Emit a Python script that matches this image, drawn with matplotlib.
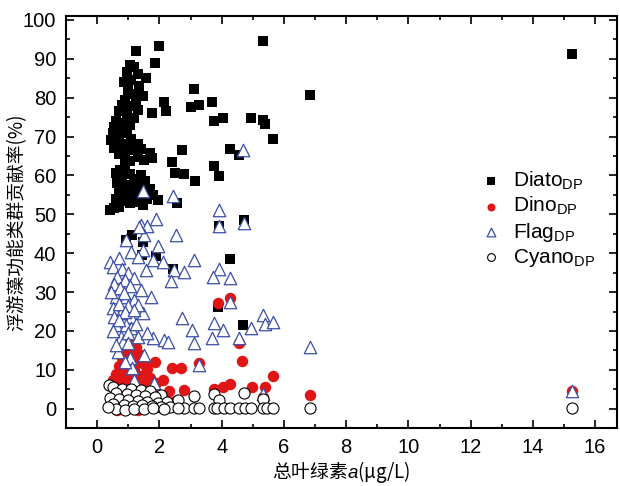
import matplotlib
matplotlib.use('Agg')
import matplotlib.pyplot as plt
from matplotlib.ticker import MultipleLocator

plt.rcParams['font.family'] = ['Liberation Sans', 'Noto Sans CJK SC']
plt.rcParams['mathtext.fontset'] = 'custom'
plt.rcParams['mathtext.rm'] = 'Liberation Sans'
plt.rcParams['mathtext.it'] = 'Liberation Sans:italic'

# Diato_DP (chl-a, %)
diato_x = [2.0, 1.25, 1.85, 1.57, 3.1, 1.47, 2.14, 3.7, 3.03, 3.26, 1.76, 2.2, 3.77, 4.03,
           4.95, 5.34, 6.85, 5.34, 5.4, 5.66, 4.28, 4.57, 2.72, 3.74, 2.4, 2.5, 2.78, 3.13,
           3.93, 1.4, 1.7, 1.76, 0.6, 0.42, 2.55, 1.95, 1.47, 1.12, 0.93, 1.47, 1.45, 1.9,
           2.43, 3.9, 4.73, 4.28, 3.87, 4.7, 15.25,
           1.05, 1.2, 0.95, 1.3, 1.1, 0.85, 1.35, 1.0, 1.15, 0.9, 1.25, 0.8, 1.1,
           0.7, 1.3, 0.95, 1.2, 0.6, 0.85, 1.05, 0.55, 0.75, 0.5, 0.7, 0.95, 0.45,
           0.65, 0.85, 1.1, 1.3, 0.55, 1.0, 1.2, 0.7, 0.9, 1.05, 1.3, 1.5,
           0.75, 0.9, 1.05, 0.8, 1.2, 1.4, 0.65, 0.9, 1.1, 1.3, 1.55, 1.7, 0.7,
           0.95, 1.2, 1.45, 1.8, 0.6, 0.85, 1.05, 1.3, 0.7, 0.55, 1.6]
diato_y = [93.3, 92.0, 89.0, 85.0, 82.3, 80.5, 79.0, 79.0, 77.5, 78.0, 76.0, 76.5, 74.0, 74.8,
           74.8, 94.5, 80.6, 74.3, 73.3, 69.3, 66.9, 65.3, 66.6, 62.4, 63.4, 60.6, 60.3, 58.5,
           59.8, 66.8, 65.9, 64.4, 60.6, 51.2, 52.8, 53.6, 52.4, 44.8, 43.5, 43.0, 39.5, 39.4,
           36.0, 47.0, 48.6, 38.5, 26.2, 21.5, 91.2,
           88.5, 88.0, 86.5, 86.0, 84.5, 84.0, 83.0, 82.0, 81.0, 79.5, 79.0, 78.2, 77.8,
           76.5, 76.8, 75.5, 74.8, 74.0, 73.5, 73.0, 72.5, 72.0, 71.0, 70.2, 70.8, 69.0,
           68.5, 68.0, 69.5, 68.2, 67.0, 67.0, 66.5, 65.5, 64.5, 63.8, 64.8, 64.0,
           61.5, 62.0, 60.5, 59.5, 59.0, 60.0, 58.0, 57.5, 57.0, 57.8, 58.5, 56.5, 56.0,
           55.0, 55.5, 55.2, 55.0, 54.0, 53.5, 52.8, 53.2, 52.0, 51.5, 54.0]

# Dino_DP
dino_x = [1.85, 2.4, 2.68, 3.26, 3.87, 4.28, 4.66, 4.57, 2.1, 2.78, 3.74, 4.03, 4.28, 4.98,
          5.4, 5.66, 6.85, 5.34, 15.25,
          1.1, 1.0, 1.25, 0.9, 1.2, 1.4, 0.8, 1.05, 1.3, 1.5, 0.7, 0.95, 1.2, 1.6, 0.6,
          0.85, 1.1, 1.4, 1.7, 0.5, 0.75, 1.0, 1.3, 1.55, 1.9, 0.6, 0.9, 1.2, 1.5, 1.8,
          2.3, 0.7, 1.0, 1.35, 1.7, 2.0, 0.55, 0.85, 1.15, 1.5, 0.65, 0.95, 1.3, 2.5]
dino_y = [12.0, 10.5, 10.5, 11.8, 27.2, 28.5, 12.3, 17.0, 7.4, 4.9, 5.2, 5.6, 6.3, 5.5,
          5.6, 8.5, 3.6, 3.0, 4.5,
          16.5, 15.5, 15.8, 14.5, 14.0, 13.8, 13.0, 12.5, 12.0, 11.5, 11.0, 10.5, 10.0, 10.2, 9.0,
          8.5, 8.2, 8.5, 7.8, 7.5, 7.0, 6.5, 6.2, 6.0, 6.5, 5.0, 4.8, 4.5, 4.2, 4.0,
          4.5, 3.0, 2.8, 2.5, 2.2, 3.0, 1.5, 1.0, 0.8, 0.5, -0.3, 0.0, -0.2, 2.0]

# Flag_DP
flag_x = [3.92, 1.88, 1.4, 1.6, 3.9, 4.73, 2.52, 1.5, 0.93, 1.95, 1.47, 0.42, 0.7, 1.09,
          1.31, 1.79, 2.1, 3.1, 2.46, 2.78, 3.9, 3.72, 4.28, 2.36, 1.57, 1.73, 1.4, 0.6,
          0.93, 0.5, 0.77, 1.09, 1.47, 2.72, 3.05, 3.76, 4.03, 4.95, 5.34, 5.4, 5.66, 0.6,
          0.93, 1.09, 1.31, 1.79, 2.14, 2.27, 3.1, 3.7, 4.57, 0.77, 0.83, 0.67, 1.05, 1.5,
          1.12, 1.18, 1.82, 3.26, 4.28, 4.7, 6.85, 5.34, 1.47, 2.43, 1.34, 15.25,
          0.5, 0.8, 1.0, 0.65, 0.9, 1.2, 0.55, 0.75, 1.05, 0.45, 0.85, 1.2, 0.7, 1.0,
          1.3, 0.55, 0.9, 1.2, 0.7, 1.0, 0.5, 1.25, 1.6, 0.6, 1.0, 0.9]
flag_y = [51.2, 48.8, 47.2, 47.0, 47.0, 47.8, 44.6, 44.6, 43.3, 41.8, 40.8, 37.7, 38.7, 40.3,
          39.0, 38.2, 37.7, 38.2, 35.6, 35.1, 36.0, 34.0, 33.6, 32.8, 35.6, 28.7, 30.5, 28.7,
          28.7, 26.0, 24.6, 23.6, 24.6, 23.3, 20.3, 22.0, 20.3, 20.8, 24.1, 21.8, 22.4, 21.5,
          21.5, 20.8, 18.5, 18.2, 17.7, 17.2, 16.9, 18.3, 18.2, 18.5, 17.2, 14.6, 13.0, 13.8,
          10.5, 7.4, 6.7, 11.3, 27.4, 66.6, 16.0, 3.8, 56.0, 54.6, 46.7, 4.6,
          36.5, 36.0, 35.0, 34.0, 33.0, 33.5, 32.0, 31.0, 31.5, 30.0, 29.8, 28.0, 27.0, 26.5,
          26.8, 23.5, 25.0, 25.5, 22.8, 19.5, 20.0, 21.8, 19.5, 16.5, 17.0, 12.0]

# Cyano_DP
cyano_x = [3.1, 3.74, 3.9, 4.73, 5.34, 2.04, 2.59, 0.38, 15.25,
           2.78, 3.1, 3.26, 3.74, 3.85, 4.06, 4.28, 4.57, 4.76, 4.95, 5.34, 5.45, 5.66, 6.85,
           0.5, 0.8, 1.1, 1.4, 1.7, 0.6, 0.95, 1.25, 1.55, 1.85, 0.4, 0.7, 1.0, 1.3, 1.6,
           1.95, 2.25, 0.5, 0.85, 1.15, 1.45, 1.75, 2.05, 2.35, 2.6, 0.6, 0.9, 1.2, 1.5,
           1.8, 2.15, 0.35]
cyano_y = [3.3, 3.8, 2.3, 4.0, 2.6, 3.6, 2.3, 6.0, 0.2,
           0.3, 0.3, 0.3, 0.3, 0.3, 0.3, 0.3, 0.3, 0.3, 0.3, 0.3, 0.3, 0.3, 0.3,
           5.5, 5.0, 5.2, 4.8, 4.5, 4.0, 3.8, 3.5, 3.2, 3.0, 2.8, 2.5, 2.2, 2.0, 1.8,
           1.5, 1.8, 1.2, 1.0, 0.8, 0.9, 0.6, 0.5, 0.4, 0.3, 0.0, -0.2, 0.0, -0.1,
           0.1, 0.0, 0.5]

fig = plt.figure(figsize=(6.2, 4.86), dpi=100)
ax = fig.add_axes([0.1065, 0.119, 0.8885, 0.848])

ax.scatter(diato_x, diato_y, marker='s', s=55, c='black', linewidths=0, label='Diato$_{\\mathrm{DP}}$')
ax.scatter(dino_x, dino_y, marker='o', s=68, c='#e01515', linewidths=0, label='Dino$_{\\mathrm{DP}}$')
ax.scatter(flag_x, flag_y, marker='^', s=80, facecolors='white', edgecolors='#3a4ea8',
           linewidths=0.9, label='Flag$_{\\mathrm{DP}}$')
ax.scatter(cyano_x, cyano_y, marker='o', s=64, facecolors='white', edgecolors='black',
           linewidths=0.8, label='Cyano$_{\\mathrm{DP}}$')

ax.set_xlim(-1, 16.7)
ax.set_ylim(-5, 101)
ax.xaxis.set_major_locator(MultipleLocator(2))
ax.xaxis.set_minor_locator(MultipleLocator(1))
ax.yaxis.set_major_locator(MultipleLocator(10))
ax.yaxis.set_minor_locator(MultipleLocator(5))
ax.tick_params(which='both', direction='in', top=True, right=True, width=1.2)
ax.tick_params(which='major', length=6)
ax.tick_params(which='minor', length=3)
ax.tick_params(axis='y', labelsize=14.5, pad=7)
ax.tick_params(axis='x', labelsize=14.5, pad=7)
for sp in ax.spines.values():
    sp.set_linewidth(1.5)

ax.set_xlabel('总叶绿素$\\mathit{a}$(μg/L)', fontsize=13.5, family='Noto Sans CJK SC')
ax.set_ylabel('浮游藻功能类群贡献率(%)', fontsize=13.5, family='Noto Sans CJK SC')
ax.xaxis.set_label_coords(0.5, -0.074)
ax.yaxis.set_label_coords(-0.07, 0.5)

ax.legend(loc='center left', bbox_to_anchor=(0.752, 0.507), frameon=False, fontsize=15,
          markerscale=0.7, handlelength=1.0, handletextpad=0.55, labelspacing=0.15,
          borderpad=0, borderaxespad=0)

fig.savefig('out.png', dpi=100)
